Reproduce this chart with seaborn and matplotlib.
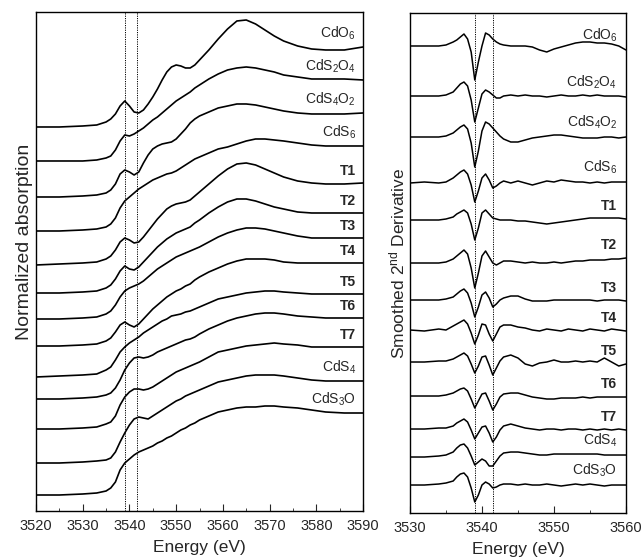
import numpy as np
import pandas as pd
import matplotlib
matplotlib.use("Agg")
import matplotlib.pyplot as plt
import seaborn as sns
from matplotlib.ticker import MultipleLocator

# energy grids (eV)
energy_xanes = [3520, 3525, 3530, 3533, 3535, 3536, 3537, 3538, 3539, 3540, 3541, 3542, 3543,
                3544, 3545, 3546, 3547, 3548, 3549, 3550, 3551, 3552, 3553, 3554, 3555, 3557,
                3559, 3561, 3563, 3565, 3567, 3569, 3571, 3573, 3576, 3579, 3582, 3586, 3590]
energy_deriv = [3530, 3532, 3534, 3535, 3536, 3536.5, 3537, 3537.5, 3538, 3538.5, 3539, 3539.5,
                3540, 3540.5, 3541, 3541.5, 3542, 3542.5, 3543, 3544, 3545, 3546, 3547, 3548,
                3549, 3550, 3551, 3552, 3553, 3554, 3555, 3556, 3557, 3558, 3559, 3560]

labels = ["CdO$_6$", "CdS$_2$O$_4$", "CdS$_4$O$_2$", "CdS$_6$", "T1", "T2", "T3", "T4",
          "T5", "T6", "T7", "CdS$_4$", "CdS$_3$O"]
bold = [False, False, False, False, True, True, True, True, True, True, True, False, False]

# normalized absorption (a.u.)
xanes_cdo6 = [0, 0, 1, 2, 5, 8, 13, 21, 26, 21, 15, 14, 17, 23, 30, 38, 47, 55, 60, 62, 61, 59, 59, 62,
              67, 77, 88, 98, 106, 107, 103, 97, 91, 86, 81, 78, 77, 77, 80]
xanes_cds2o4 = [0, 0, 0, 1, 3, 5, 11, 20, 26, 25, 27, 30, 33, 37, 41, 44, 48, 52, 56, 60, 63, 66, 69, 73,
                76, 82, 87, 91, 93, 94, 93, 91, 89, 86, 84, 82, 82, 82, 81]
xanes_cds4o2 = [0, 0, 1, 2, 4, 7, 13, 23, 27, 25, 22, 25, 34, 42, 48, 51, 53, 54, 55, 58, 63, 68, 74, 78,
                81, 85, 89, 91, 93, 93, 92, 90, 88, 86, 84, 83, 83, 83, 84]
xanes_cds6 = [0, 0, 1, 2, 4, 7, 13, 23, 30, 34, 38, 42, 45, 48, 51, 53, 55, 57, 58, 60, 63, 66, 69, 72,
              74, 78, 82, 84, 87, 90, 92, 92, 91, 90, 88, 86, 85, 85, 85]
xanes_t1 = [0, 1, 2, 3, 6, 9, 15, 23, 27, 25, 22, 23, 28, 34, 40, 46, 51, 56, 59, 61, 62, 63, 65, 69,
            73, 81, 89, 96, 101, 102, 100, 96, 92, 88, 84, 82, 81, 81, 82]
xanes_t2 = [0, 0, 1, 2, 5, 8, 14, 22, 27, 24, 23, 26, 31, 36, 41, 46, 50, 54, 57, 60, 62, 64, 66, 70,
            73, 80, 86, 91, 94, 94, 92, 89, 86, 84, 81, 80, 80, 80, 80]
xanes_t3 = [0, 0, 1, 2, 5, 8, 14, 22, 28, 31, 33, 35, 38, 42, 46, 50, 53, 56, 59, 62, 64, 66, 68, 70,
            72, 77, 82, 86, 89, 91, 91, 90, 88, 86, 83, 81, 81, 81, 81]
xanes_t4 = [0, 0, 1, 2, 5, 8, 14, 21, 24, 21, 19, 22, 27, 32, 37, 41, 45, 49, 52, 55, 57, 60, 62, 66,
            69, 74, 78, 82, 85, 87, 87, 87, 86, 84, 83, 83, 83, 83, 83]
xanes_t5 = [0, 1, 2, 3, 7, 10, 17, 25, 30, 34, 37, 40, 44, 47, 50, 53, 56, 58, 61, 62, 63, 65, 66, 68,
            70, 74, 78, 80, 82, 84, 85, 86, 86, 85, 84, 83, 83, 83, 83]
xanes_t6 = [0, 0, 1, 2, 4, 6, 11, 19, 29, 36, 41, 42, 41, 42, 44, 47, 49, 51, 53, 55, 57, 59, 60, 62,
            65, 70, 74, 78, 81, 83, 85, 86, 86, 85, 83, 82, 81, 81, 81]
xanes_t7 = [0, 0, 1, 2, 5, 7, 13, 24, 32, 37, 40, 40, 39, 40, 42, 45, 48, 51, 54, 57, 59, 61, 63, 65,
            67, 72, 77, 79, 81, 83, 84, 85, 86, 85, 84, 82, 82, 82, 82]
xanes_cds4 = [0, 0, 1, 2, 3, 5, 11, 21, 30, 38, 44, 46, 45, 44, 47, 50, 53, 56, 59, 62, 64, 67, 69, 71,
              73, 77, 81, 83, 85, 87, 88, 88, 88, 87, 85, 83, 82, 82, 82]
xanes_cds3o = [0, 0, 1, 2, 4, 7, 13, 25, 32, 36, 40, 43, 45, 47, 49, 52, 54, 57, 59, 62, 65, 67, 70, 72,
               75, 79, 83, 85, 87, 88, 88, 89, 89, 88, 87, 85, 83, 82, 82]
xanes_offsets = [384, 350, 314, 280, 246, 218, 192, 165, 134, 112, 82, 48, 16]

# smoothed 2nd derivative (a.u.)
deriv_cdo6 = [0, 0, 0, 1, 4, 6, 9, 12, 7, -6, -34, -16, 0, 13, 11, 7, 4, 2, 1, 0, 0, 0, -1, -4, -6, -3, -1, 1, 3, 4, 4, 3, 3, 2, 0, -4]
deriv_cds2o4 = [0, 0, 0, 1, 4, 8, 12, 14, 10, -4, -26, -12, 2, 6, 4, 1, -2, -2, 0, 1, 0, 1, 0, 0, -1, 0, 1, 0, 0, 1, 0, 1, 0, 0, 0, -1]
deriv_cds4o2 = [0, 0, 0, 1, 4, 7, 10, 12, 8, -6, -30, -14, 6, 15, 13, 9, 5, 1, -2, -5, -5, -3, -1, 0, 1, 2, 2, 1, 0, -1, -1, -1, 0, 0, -1, 0]
deriv_cds6 = [0, 1, 0, 1, 5, 8, 11, 13, 9, -2, -19, -8, 5, 9, 3, -5, -3, 0, 2, 0, 2, 0, -2, 0, 2, 1, 3, 2, 1, 1, 0, 1, 0, 1, 1, 1]
deriv_t1 = [0, 0, 0, 1, 3, 6, 8, 10, 7, -4, -20, -8, 7, 10, 6, 2, 1, 0, 0, 0, -1, -1, -2, -3, -4, -3, -2, -1, 0, 1, 2, 2, 2, 2, 2, 1]
deriv_t2 = [0, 0, 0, 1, 4, 7, 10, 13, 9, -5, -25, -10, 7, 12, 6, 0, -2, 0, 2, 2, 1, 0, 1, 0, 0, 1, 0, 1, 2, 2, 3, 3, 3, 4, 4, 5]
deriv_t3 = [0, 0, 0, 1, 3, 6, 9, 11, 7, -3, -17, -7, 5, 8, 2, -7, -4, 0, 2, 4, 4, 1, -1, -1, -1, 0, 0, 0, 0, 0, 0, -1, 0, 0, 0, -1]
deriv_t4 = [0, -1, 1, 0, 4, 6, 8, 10, 6, -3, -14, -5, 6, 5, -4, -11, -4, 3, 5, 5, 3, 2, 0, -1, 1, 0, -1, 1, 0, -1, 1, 0, -1, 1, 0, -1]
deriv_t5 = [0, 0, 1, 1, 3, 5, 7, 9, 6, -2, -11, -4, 5, 6, -3, -13, -6, 1, 5, 7, 4, -2, -4, -1, 0, 2, 0, 0, 1, 0, 1, 0, 4, 0, -4, -2]
deriv_t6 = [0, 0, 0, 1, 3, 5, 7, 8, 5, -3, -12, -5, 2, 3, -5, -14, -8, -1, 2, 3, 3, 1, -1, -2, -3, -3, -2, -2, -2, -1, -2, -1, -1, -1, -1, -1]
deriv_t7 = [0, 0, 1, 1, 3, 6, 8, 10, 7, -1, -10, -4, 2, 3, -4, -13, -8, -1, 3, 5, 3, 1, 0, -1, 0, 0, -1, 0, 0, -1, 0, -1, 0, -1, 0, -1]
deriv_cds4 = [0, 0, 1, 2, 5, 9, 12, 13, 9, 1, -8, -5, -2, -4, -9, -9, -4, 1, 4, 5, 5, 4, 3, 2, 2, 3, 3, 3, 3, 3, 3, 3, 2, 2, 2, 2]
deriv_cds3o = [0, 0, 1, 2, 4, 8, 11, 12, 8, -3, -17, -10, 0, 3, 1, -3, -2, 0, 1, 1, 0, 1, 0, 0, 1, 0, -1, 0, 1, 0, 1, 0, -1, 0, 0, 0]
deriv_offsets = [467, 417, 376, 330, 293, 250, 213, 183, 151, 117, 84, 56, 28]

marker_lines = [3539.0, 3541.6]

xanes = [xanes_cdo6, xanes_cds2o4, xanes_cds4o2, xanes_cds6, xanes_t1, xanes_t2, xanes_t3,
         xanes_t4, xanes_t5, xanes_t6, xanes_t7, xanes_cds4, xanes_cds3o]
deriv = [deriv_cdo6, deriv_cds2o4, deriv_cds4o2, deriv_cds6, deriv_t1, deriv_t2, deriv_t3,
         deriv_t4, deriv_t5, deriv_t6, deriv_t7, deriv_cds4, deriv_cds3o]

sns.set_style("ticks")
plt.rcParams["font.family"] = ["Liberation Sans", "DejaVu Sans"]
plt.rcParams["mathtext.fontset"] = "custom"
plt.rcParams["mathtext.rm"] = "Liberation Sans"
plt.rcParams["mathtext.it"] = "Liberation Sans"
plt.rcParams["mathtext.bf"] = "Liberation Sans:bold"

fig = plt.figure(figsize=(6.44, 5.6), dpi=100)
ax1 = fig.add_axes([0.0559, 0.0875, 0.5078, 0.8911])
ax2 = fig.add_axes([0.6366, 0.0839, 0.3354, 0.8929])

for vals, off, lab, b in zip(xanes, xanes_offsets, labels, bold):
    y = np.array(vals) + off
    sns.lineplot(x=energy_xanes, y=y, ax=ax1, color="black", linewidth=1.2, sort=False)
    ax1.text(3588.5, y[-1] + 5, lab, ha="right", va="bottom", fontsize=10,
             fontweight="bold" if b else "normal")

for vals, off, lab, b in zip(deriv, deriv_offsets, labels, bold):
    y = np.array(vals) + off
    sns.lineplot(x=energy_deriv, y=y, ax=ax2, color="black", linewidth=1.1, sort=False)
    ax2.text(3558.8, y[-1] + 6, lab, ha="right", va="bottom", fontsize=10,
             fontweight="bold" if b else "normal")

for ax in (ax1, ax2):
    for e in marker_lines:
        ax.axvline(e, color="black", linestyle=(0, (1.2, 1.2)), linewidth=0.7)
    ax.set_yticks([])
    ax.tick_params(axis="x", which="major", direction="in", length=5, labelsize=10.5, top=False, pad=6)
    ax.tick_params(axis="x", which="minor", direction="in", length=2.5, top=False)
    for s in ax.spines.values():
        s.set_visible(True)
        s.set_linewidth(1.0)
        s.set_color("black")
    ax.set_xlabel("Energy (eV)", fontsize=12.5, labelpad=5)

ax1.set_xlim(3520, 3590)
ax1.set_ylim(0, 499)
ax1.xaxis.set_major_locator(MultipleLocator(10))
ax1.xaxis.set_minor_locator(MultipleLocator(5))
ax1.set_ylabel("Normalized absorption", fontsize=14, labelpad=2)
ax1.yaxis.label.set_y(0.54)

ax2.set_xlim(3530, 3560)
ax2.set_ylim(0, 500)
ax2.xaxis.set_major_locator(MultipleLocator(10))
ax2.xaxis.set_minor_locator(MultipleLocator(5))
ax2.set_ylabel("Smoothed 2$^{nd}$ Derivative", fontsize=12.5, labelpad=2)

fig.savefig("out.png", dpi=100)
